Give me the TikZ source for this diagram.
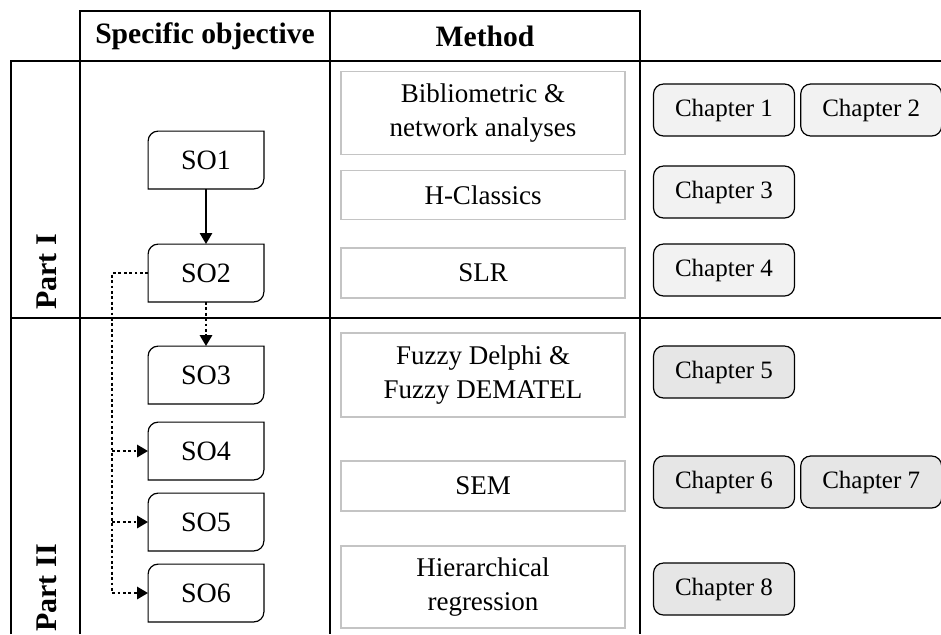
\documentclass[tikz,border=0pt]{standalone}
\usepackage{fontspec}
\setmainfont{Liberation Serif}
\usetikzlibrary{positioning}
\usetikzlibrary{arrows.meta}

\definecolor{chaplight}{HTML}{F2F2F2}
\definecolor{chapdark}{HTML}{E6E6E6}
\definecolor{methodline}{HTML}{C4C4C4}

\tikzset{
  tableline/.style={line width=0.9pt},
  sobox/.style={minimum width=57.5pt, minimum height=28.5pt, inner sep=0pt, font=\fontsize{14}{16}\selectfont},
  soframe/.style={line width=0.6pt},
  method/.style={draw=methodline, line width=0.7pt, minimum width=142pt, align=center, inner sep=0pt, font=\fontsize{13.5}{17}\selectfont},
  chapter/.style={draw, rounded corners=5pt, line width=0.6pt, fill=chaplight, minimum width=70.5pt, minimum height=26pt, inner sep=0pt, font=\fontsize{12.5}{15}\selectfont},
  head/.style={font=\bfseries\fontsize{14.8}{17}\selectfont},
  part/.style={rotate=90, font=\bfseries\fontsize{15}{17}\selectfont},
  link/.style={-{Triangle[length=5.5pt,width=6pt]}, line width=1.2pt},
  dotlink/.style={link, line width=1.4pt, dash pattern=on 1.4pt off 1.3pt},
}

\begin{document}
\begin{tikzpicture}[x=0.5pt, y=-0.5pt]
\useasboundingbox (0,0) rectangle (941,634);

% table rules
\draw[tableline] (80,634) -- (80,11) -- (640,11) -- (640,634);
\draw[tableline] (330,11) -- (330,634);
\draw[tableline] (11,634) -- (11,61) -- (941,61);
\draw[tableline] (11,318) -- (941,318);

\node[head] (hobj) at (205,36) {Specific objective};
\node[head] (hmeth) at (485,36) {Method};
\node[part] (part1) at (47,272) {Part I};
\node[part] (part2) at (47,588) {Part II};

% objectives
\node[sobox] (so1) at (206,160) {SO1};
\node[sobox] (so2) at (206,273) {SO2};
\node[sobox] (so3) at (206,375) {SO3};
\node[sobox] (so4) at (206,451) {SO4};
\node[sobox] (so5) at (206,522) {SO5};
\node[sobox] (so6) at (206,593) {SO6};
\foreach \n in {so1,so2,so3,so4,so5,so6}
  \draw[soframe] (\n.south west) -- ([yshift=-5pt]\n.north west) arc[start angle=180, end angle=90, radius=5pt]
    -- (\n.north east) -- ([yshift=5pt]\n.south east) arc[start angle=0, end angle=-90, radius=5pt] -- cycle;

% methods
\node[method, minimum height=41.5pt] (m1) at (483,113) {Bibliometric \&\\network analyses};
\node[method, minimum height=24.5pt] (m2) at (483,195) {H-Classics};
\node[method, minimum height=25pt] (m3) at (483,273) {SLR};
\node[method, minimum height=42pt] (m4) at (483,375) {Fuzzy Delphi \&\\Fuzzy DEMATEL};
\node[method, minimum height=25pt] (m5) at (483,486) {SEM};
\node[method, minimum height=41pt] (m6) at (483,587) {Hierarchical\\regression};

% chapters
\node[chapter] (c1) at (724,110) {Chapter 1};
\node[chapter, right=2.5pt of c1] (c2) {Chapter 2};
\node[chapter] (c3) at (724,192) {Chapter 3};
\node[chapter] (c4) at (724,270) {Chapter 4};
\node[chapter, fill=chapdark] (c5) at (724,372) {Chapter 5};
\node[chapter, fill=chapdark] (c6) at (724,482) {Chapter 6};
\node[chapter, fill=chapdark, right=2.5pt of c6] (c7) {Chapter 7};
\node[chapter, fill=chapdark] (c8) at (724,589) {Chapter 8};

% links
\draw[link] (so1) -- (so2);
\draw[dotlink] (so2) -- (so3);
\coordinate (bus) at (112,273);
\draw[dotlink] (so2.west) -- (bus) |- (so6.west);
\draw[dotlink] (so4.west -| bus) -- (so4.west);
\draw[dotlink] (so5.west -| bus) -- (so5.west);
%\draw[dotlink] (so3.west -| bus) -- (so3.west);
\end{tikzpicture}
\end{document}
